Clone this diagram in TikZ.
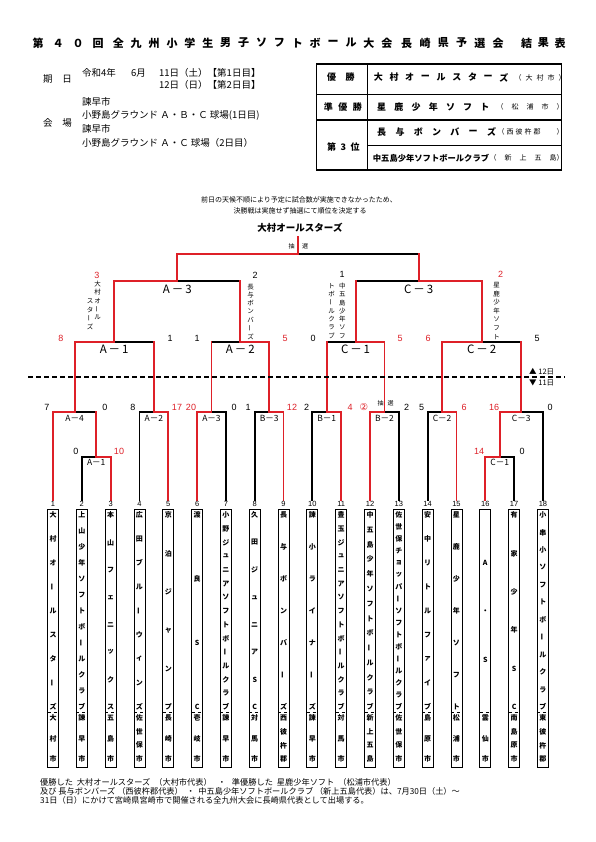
\documentclass[tikz,border=0pt]{standalone}
\usepackage{fontspec}
\setmainfont{Noto Sans CJK JP}
\newfontfamily\latin{Liberation Sans}
\newfontfamily\dejavu{DejaVu Sans}
\usetikzlibrary{positioning}
\definecolor{wred}{RGB}{222,32,40}

\newcommand\tate{\rotatebox[origin=c]{90}{ー}}
% chars spread evenly between two heights
\newcommand\spreadcol[5]{%
  \foreach \ch [count=\kk] in {#5} {\xdef\nchars{\kk}}%
  \foreach \ch [count=\kk] in {#5}
    \node[boxchar] (#1-\kk) at (#2,{#3+(\kk-1)*(#4-#3)/max(\nchars-1,1)}) {\ch};}
% chars at a fixed pitch, downwards / rightwards
\newcommand\pitchcol[6]{%
  \foreach \ch [count=\kk] in {#6}
    \node[#1] (#2-\kk) at (#3,{#4+(\kk-1)*#5}) {\ch};}
\newcommand\pitchrow[6]{%
  \foreach \ch [count=\kk] in {#6}
    \node[#1] (#2-\kk) at ({#3+(\kk-1)*#5},#4) {\ch};}
% one team card
\newcommand\team[3]{%
  \pgfmathsetmacro\tx{53+(#1-1)*28.82}
  \draw[tbox] ({\tx-5.5},509) rectangle ({\tx+5.5},767);
  \draw[thin,dashed] ({\tx-5.5},712) -- ({\tx+5.5},712);
  \node[tnum] (no#1) at (\tx,503.5) {#1};
  \ifx&#2&\else\spreadcol{nm#1}{\tx}{515}{707}{#2}\fi
  \spreadcol{ct#1}{\tx}{718}{759}{#3}}

\begin{document}
\begin{tikzpicture}[x=1pt,y=-1pt,
   win/.style={line width=1.8pt,wred,line cap=rect},
   lose/.style={line width=1.8pt,black,line cap=rect},
   ttl/.style={font=\bfseries\fontsize{11}{11}\selectfont,inner sep=0},
   hd/.style={font=\fontsize{9.5}{10}\selectfont,inner sep=0},
   tb/.style={font=\bfseries\fontsize{9}{9}\selectfont,inner sep=0},
   tp/.style={font=\fontsize{7}{7}\selectfont,inner sep=0},
   sc/.style={font=\latin\fontsize{9}{9}\selectfont,inner sep=0},
   scw/.style={sc,text=wred},
   mlab/.style={font=\fontsize{11.5}{11.5}\selectfont,inner sep=0},
   mlabs/.style={font=\fontsize{8.5}{8.5}\selectfont,inner sep=0},
   tnum/.style={font=\latin\fontsize{7.5}{7.5}\selectfont,inner sep=0},
   boxchar/.style={font=\bfseries\fontsize{7}{7}\selectfont,inner sep=0},
   vlab/.style={font=\fontsize{6.5}{6.5}\selectfont,inner sep=0},
   small/.style={font=\fontsize{6}{6}\selectfont,inner sep=0},
   ft/.style={font=\fontsize{8.2}{8.5}\selectfont,inner sep=0,anchor=west},
   tbox/.style={line width=0.9pt}]
  \useasboundingbox[fill=white] (0,0) rectangle (595,842);

  % title
  \pitchrow{ttl}{ta}{38}{43}{20}{第,４,０,回}
  \pitchrow{ttl}{tb}{118.3}{43}{17.9}{全,九,州,小,学,生,男,子,ソ,フ,ト,ボ,ー,ル,大,会}
  \pitchrow{ttl}{tc}{406.7}{43}{18.3}{長,崎,県,予,選,会}
  \pitchrow{ttl}{td}{526.7}{43}{16.7}{結,果,表}

  % date and grounds
  \node[hd] (kijitsu) at (57.5,79) {期\hspace{10pt}日};
  \node[hd,anchor=west] (dy) at (82,73) {令和4年};
  \node[hd,anchor=west] (dm) at (131,73) {6月};
  \node[hd,anchor=west] (day1) at (159,73) {11日（土）【第1日目】};
  \node[hd,anchor=west] (day2) at (159,84.5) {12日（日）【第2日目】};
  \node[hd] (kaijo) at (57.5,123) {会\hspace{10pt}場};
  \node[hd,anchor=west] (g1a) at (82,102) {諫早市};
  \node[hd,anchor=west] (g1b) at (82,115.5) {小野島グラウンド Ａ・Ｂ・Ｃ 球場(1日目)};
  \node[hd,anchor=west] (g2a) at (82,129) {諫早市};
  \node[hd,anchor=west] (g2b) at (82,143) {小野島グラウンド Ａ・Ｃ 球場（2日目）};

  % result table
  \draw[line width=1.2pt] (316.7,64) rectangle (561.7,170);
  \draw[line width=1.2pt] (367.7,64) -- (367.7,170);
  \draw[line width=1.2pt] (316.7,94.3) -- (561.7,94.3);
  \draw[line width=1.2pt] (316.7,120) -- (561.7,120);
  \draw[line width=0.6pt] (367.7,145.7) -- (561.7,145.7);
  \pitchrow{tb}{k1}{331.7}{77.5}{18.3}{優,勝}
  \pitchrow{tb}{k2}{328.3}{107}{14.5}{準,優,勝}
  \pitchrow{tb}{k3}{331.7}{147.3}{11.7}{第,3,位}
  \pitchrow{tb}{r1}{378.3}{77.5}{15.7}{大,村,オ,ー,ル,ス,タ,ー,ズ}
  \pitchrow{tp}{r1p}{518}{77.5}{11}{（,大,村,市,）}
  \pitchrow{tb}{r2}{381.7}{107}{17.2}{星,鹿,少,年,ソ,フ,ト}
  \pitchrow{tp}{r2p}{500}{107}{15}{（,松,浦,市,）}
  \pitchrow{tb}{r3}{381.7}{132}{18.3}{長,与,ボ,ン,バ,ー,ズ}
  \pitchrow{tp}{r3p}{501}{132}{9}{（,西,彼,杵,郡}
  \node[tp] (r3e) at (560,132) {）};
  \node[font=\bfseries\fontsize{8.3}{8.3}\selectfont,inner sep=0,anchor=west] (r4) at (372.7,158) {中五島少年ソフトボールクラブ};
  \pitchrow{tp}{r4p}{493}{158}{15}{（,新,上,五,島}
  \node[tp] (r4e) at (560,158) {）};

  % note and champion
  \node[font=\fontsize{7}{7}\selectfont,inner sep=0] (note1) at (299,200) {前日の天候不順により予定に試合数が実施できなかったため、};
  \node[font=\fontsize{7}{7}\selectfont,inner sep=0] (note2) at (300,211) {決勝戦は実施せず抽選にて順位を決定する};
  \node[font=\bfseries\fontsize{9.5}{9.5}\selectfont,inner sep=0] (champ) at (300,228) {大村オールスターズ};
  \node[small] (ch1) at (291.7,246) {抽};
  \node[small] (ch2) at (305,246) {選};

  % bracket points
  \foreach \i in {1,...,18} \coordinate (t\i) at ({53+(\i-1)*28.82},500);
  \coordinate (dA1) at (96.23,457);
  \coordinate (dC1) at (499.71,457);
  \coordinate (dA4) at (74.6,412);
  \coordinate (dA2) at (153.87,412);
  \coordinate (dA3) at (211.51,412);
  \coordinate (dB3) at (269.15,412);
  \coordinate (dB1) at (326.79,412);
  \coordinate (dB2) at (384.43,412);
  \coordinate (dC2) at (442.07,412);
  \coordinate (dC3) at (521.33,412);
  \coordinate (A1) at (114.24,342);
  \coordinate (A2) at (240.33,342);
  \coordinate (C1) at (355.61,342);
  \coordinate (C2) at (481.7,342);
  \coordinate (A3) at (177.29,281);
  \coordinate (C3) at (418.66,281);
  \coordinate (F) at (297.98,254);
  \coordinate (top) at (297.98,237);

  % lines: losers first, then winners
  \foreach \a/\b in {t2/dA1,t4/dA2,t7/dA3,t8/dB3,t10/dB1,t13/dB2,t14/dC2,t17/dC1,t18/dC3}
    \draw[lose] (\a) |- (\b);
  \foreach \a/\b in {dA1/dA4,dA2/A1,dA3/A2,dB1/C1,dC3/C2,A2/A3,C1/C3,C3/F}
    \draw[lose] (\a |- \b) -- (\b);
  \foreach \a/\b in {dC1/dC3,dA4/A1,dB3/A2,dB2/C1,dC2/C2,A1/A3,C2/C3,A3/F}
    \draw[win] (\a |- \b) -- (\b);
  \foreach \a/\b in {t1/dA4,t3/dA1,t5/dA2,t6/dA3,t9/dB3,t11/dB1,t12/dB2,t15/dC2,t16/dC1}
    \draw[win] (\a) |- (\b);
  \foreach \a/\b in {dA1/dA4,dC1/dC3,dA4/A1,dA2/A1,dA3/A2,dB3/A2,dB1/C1,dB2/C1,dC2/C2,dC3/C2,A1/A3,A2/A3,C1/C3,C2/C3,A3/F,C3/F}
    \draw[win] (\a) -- (\a |- \b);
  \draw[win] (F) -- (top);

  % match labels
  \node[mlab] (lA3) at (177.3,289) {A\,－\,3};
  \node[mlab] (lC3) at (418.7,289) {C\,－\,3};
  \node[mlab] (lA1) at (114.2,349.5) {A\,－\,1};
  \node[mlab] (lA2) at (240.3,349.5) {A\,－\,2};
  \node[mlab] (lC1) at (355.6,349.5) {C\,－\,1};
  \node[mlab] (lC2) at (481.7,349.5) {C\,－\,2};
  \foreach \m/\x/\t in {a4/74.6/A－4,a2/153.9/A－2,a3/211.5/A－3,b3/269.2/B－3,
                        b1/326.8/B－1,b2/384.4/B－2,c2/442.1/C－2,c3/521.3/C－3}
    \node[mlabs] (l\m) at (\x,418.5) {\t};
  \node[mlabs] (la1) at (96.2,462.5) {A－1};
  \node[mlabs] (lc1) at (499.7,462.5) {C－1};

  % team names on the semi final lines
  \node[scw] (s1) at (97,275) {3};
  \pitchcol{vlab}{va}{97.7}{284}{8.4}{大,村,オ,\tate,ル}
  \pitchcol{vlab}{vb}{90}{301.7}{8.4}{ス,タ,\tate,ズ}
  \node[sc] (s2) at (255,275) {2};
  \pitchcol{vlab}{vc}{250.7}{286.7}{8.3}{長,与,ボ,ン,バ,\tate,ズ}
  \node[sc] (s3) at (342,274) {1};
  \pitchcol{vlab}{vd}{342.3}{286}{8.3}{中,五,島,少,年,ソ,フ}
  \pitchcol{vlab}{ve}{331.7}{286}{8.3}{ト,ボ,\tate,ル,ク,ラ,ブ}
  \node[scw] (s4) at (500.7,274) {2};
  \pitchcol{vlab}{vf}{496.7}{285}{8.6}{星,鹿,少,年,ソ,フ,ト}

  % scores, day 2
  \node[scw] (s5) at (61,338) {8};
  \node[sc] (s6) at (170,338) {1};
  \node[sc] (s7) at (197,338) {1};
  \node[scw] (s8) at (285,338) {5};
  \node[sc] (s9) at (313,338) {0};
  \node[scw] (s10) at (400,338) {5};
  \node[scw] (s11) at (428,338) {6};
  \node[sc] (s12) at (537,338) {5};

  % day line
  \coordinate (dl1) at (28,377);
  \coordinate (dl2) at (565,377);
  \draw[dashed,line width=1.2pt,dash pattern=on 5pt off 3pt] (dl1) -- (dl2);
  \node[font=\fontsize{7.5}{7.5}\selectfont,inner sep=0,anchor=west] (up) at (529,372) {▲ 12日};
  \node[font=\fontsize{7.5}{7.5}\selectfont,inner sep=0,anchor=west] (dn) at (529,382.5) {▼ 11日};

  % scores, day 1
  \foreach \n/\x/\v in {a/47/7,b/105/0,c/133/8,d/234/0,e/248/1,f/306.7/2,g/406.7/2,h/421.7/5,i/550/0}
    \node[sc] (d\n) at (\x,407) {\v};
  \foreach \n/\x/\v in {a/177/17,b/191/20,c/292/12,d/350/4,e/464/6,f/494/16}
    \node[scw] (w\n) at (\x,407) {\v};
  \node[scw,font=\dejavu\fontsize{9.5}{9.5}\selectfont] (wg) at (364,407) {②};
  \node[small] (ch3) at (380.7,403.5) {抽};
  \node[small] (ch4) at (390.7,403.5) {選};
  \node[sc] (lo1) at (76,451) {0};
  \node[scw] (lo2) at (119,451) {10};
  \node[scw] (lo3) at (479,451) {14};
  \node[sc] (lo4) at (522,451) {0};

  % teams
  \team{1}{大,村,オ,\tate,ル,ス,タ,\tate,ズ}{大,村,市}
  \team{2}{上,山,少,年,ソ,フ,ト,ボ,\tate,ル,ク,ラ,ブ}{諫,早,市}
  \team{3}{本,山,フ,ェ,ニ,ッ,ク,ス}{五,島,市}
  \team{4}{広,田,ブ,ル,\tate,ウ,ィ,ン,ズ}{佐,世,保,市}
  \team{5}{京,泊,ジ,ャ,ン,プ}{長,崎,市}
  \team{6}{渡,良,S,C}{壱,岐,市}
  \team{7}{小,野,ジ,ュ,ニ,ア,ソ,フ,ト,ボ,\tate,ル,ク,ラ,ブ}{諫,早,市}
  \team{8}{久,田,ジ,ュ,ニ,ア,S,C}{対,馬,市}
  \team{9}{長,与,ボ,ン,バ,\tate,ズ}{西,彼,杵,郡}
  \team{10}{諫,小,ラ,イ,ナ,\tate,ズ}{諫,早,市}
  \team{11}{豊,玉,ジ,ュ,ニ,ア,ソ,フ,ト,ボ,\tate,ル,ク,ラ,ブ}{対,馬,市}
  \team{12}{中,五,島,少,年,ソ,フ,ト,ボ,\tate,ル,ク,ラ,ブ}{新,上,五,島}
  \team{13}{佐,世,保,チ,ョ,ッ,パ,\tate,ソ,フ,ト,ボ,\tate,ル,ク,ラ,ブ}{佐,世,保,市}
  \team{14}{安,中,リ,ト,ル,フ,ァ,イ,ブ}{島,原,市}
  \team{15}{星,鹿,少,年,ソ,フ,ト}{松,浦,市}
  \team{16}{}{雲,仙,市}
  \spreadcol{nm16}{485.3}{563}{660}{A,・,S}
  \team{17}{有,家,少,年,S,C}{南,島,原,市}
  \team{18}{小,串,小,ソ,フ,ト,ボ,\tate,ル,ク,ラ,ブ}{東,彼,杵,郡}

  % footer
  \node[ft] (f1) at (40,782.5) {優勝した\hspace{4pt}大村オールスターズ\hspace{4pt}（大村市代表）\hspace{6pt}・\hspace{6pt}準優勝した\hspace{4pt}星鹿少年ソフト\hspace{4pt}（松浦市代表）};
  \node[ft] (f2) at (40,791.5) {及び 長与ボンバーズ （西彼杵郡代表）\ \ ・\ \ 中五島少年ソフトボールクラブ （新上五島代表）は、7月30日（土）～};
  \node[ft] (f3) at (40,800.5) {31日（日）にかけて宮崎県宮崎市で開催される全九州大会に長崎県代表として出場する。};
\end{tikzpicture}
\end{document}
